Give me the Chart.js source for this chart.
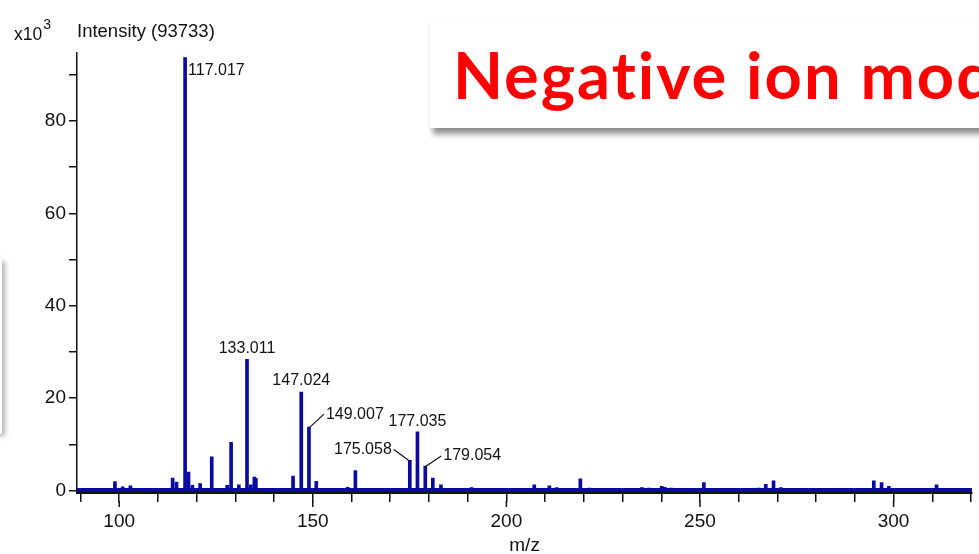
<!DOCTYPE html>
<html>
<head>
<meta charset="utf-8">
<title>Negative ion mode spectrum</title>
<script src="https://cdn.jsdelivr.net/npm/chart.js@4.4.1/dist/chart.umd.min.js"></script>
<style>
  html, body { margin: 0; padding: 0; background: #fff; overflow: hidden; }
  #wrap { position: relative; width: 979px; height: 554px; overflow: hidden; }
  #spectrum { position: absolute; left: 0; top: 0; }
  #leftBox {
    position: absolute; left: -60px; top: 259px; width: 62px; height: 175px;
    background: #fff; box-shadow: 3px 2px 5px rgba(0,0,0,0.3);
  }
  #unit {
    position: absolute; left: 14px; top: 20px; line-height: 22px;
    font: 17.5px "Liberation Sans", Arial, sans-serif; color: #111;
  }
  #unit sup { font-size: 14px; position: relative; top: -4px; margin-left: 1px; }
  #intensity {
    position: absolute; left: 77px; top: 20px; line-height: 22px;
    font: 18.5px "Liberation Sans", Arial, sans-serif; color: #111;
  }
  #mode {
    position: absolute; left: 430px; top: 18px; width: 640px; height: 110px;
    background: #fff; box-shadow: 3px 6px 6px rgba(0,0,0,0.45);
  }
  #mode span {
    position: absolute; left: 23px; top: 17px; line-height: 79px; white-space: nowrap;
    font: 700 65px Lato, "Open Sans", sans-serif; color: #ff0000;
    font-variant-ligatures: none; letter-spacing: 2px;
  }
</style>
</head>
<body>
<div id="wrap">
  <div id="leftBox"></div>
  <canvas id="spectrum" width="979" height="554"></canvas>
  <div id="unit">x10<sup>3</sup></div>
  <div id="intensity">Intensity (93733)</div>
  <div id="mode"><span>Negative ion mode</span></div>
</div>
<script>
// m/z of every stick and its intensity (counts)
const peakMz = [
  98.9, 100.9, 102.9, 104.9, 110.8, 111.9, 112.9, 113.8, 114.8,
  117.017, 117.9, 118.9, 120.9, 123.9, 127.9, 128.9, 130.9,
  133.011, 134.0, 134.9, 135.3, 144.9, 147.024, 149.007, 150.9,
  152.5, 154.0, 156.0, 159.0, 161.0, 170.5, 175.058, 177.035, 179.054,
  181.0, 183.1, 191.0, 193.0, 195.0, 197.0, 207.2, 211.1, 213.0, 219.1, 221.5,
  235.0, 236.9, 240.1, 240.9, 242.5, 251.0, 253.3, 255.5,
  265.1, 267.0, 269.0, 270.9, 281.7, 283.5,
  294.9, 296.9, 298.8, 308.7, 311.1, 313.0, 317.0
];
const peakIntensity = [
  1900, 800, 1000, 400, 300, 300, 400, 2700, 1800,
  93733, 4000, 1100, 1500, 7300, 1100, 10400, 1200,
  28400, 1200, 2900, 2600, 3100, 21300, 13700, 2000,
  300, 300, 300, 700, 4300, 400, 6500, 12700, 5300,
  2700, 1200, 600, 400, 400, 400, 1200, 1000, 600, 2500, 500,
  600, 500, 900, 700, 500, 1700, 400, 400,
  500, 1300, 2100, 600, 400, 300,
  2100, 1700, 900, 400, 1200, 400, 400
];

// annotated peaks
const labelMz = [117.017, 133.011, 147.024, 149.007, 177.035, 175.058, 179.054];
const labelText = ["117.017", "133.011", "147.024", "149.007", "177.035", "175.058", "179.054"];

// axis range and ticks
const xRange = [89.1, 320.3];
const yRange = [-550, 94700];
const xTicks = [90, 100, 110, 120, 130, 140, 150, 160, 170, 180, 190, 200, 210,
                220, 230, 240, 250, 260, 270, 280, 290, 300, 310, 320];
const xLabelled = [100, 150, 200, 250, 300];
const yTicks = [0, 10000, 20000, 30000, 40000, 50000, 60000, 70000, 80000, 90000];
const yLabelled = [0, 20000, 40000, 60000, 80000];
const noiseLevel = 100;

const BLUE = "#0a0aa0";
const INK = "#111";
const AXIS_FONT = { family: "'Liberation Sans', Arial, sans-serif", size: 19 };

// placement of each peak label relative to the top of its stick
const labelPlacement = [
  { align: "left",   dx: 3,   dy: 13,  leader: false },
  { align: "center", dx: 0,   dy: -11, leader: false },
  { align: "center", dx: 0,   dy: -11, leader: false },
  { align: "left",   dx: 17,  dy: -13, leader: true },
  { align: "center", dx: 0,   dy: -10, leader: false },
  { align: "right",  dx: -18, dy: -11, leader: true },
  { align: "left",   dx: 18,  dy: -10, leader: true }
];

const peakLabels = {
  id: "peakLabels",
  afterDatasetsDraw(chart) {
    const { ctx, scales: { x, y } } = chart;
    ctx.save();
    ctx.font = "16px 'Liberation Sans', Arial, sans-serif";
    ctx.fillStyle = INK;
    ctx.strokeStyle = INK;
    ctx.lineWidth = 1.2;
    ctx.textBaseline = "middle";
    labelMz.forEach((mz, i) => {
      const k = peakMz.indexOf(mz);
      const px = x.getPixelForValue(mz);
      const py = y.getPixelForValue(peakIntensity[k]);
      const p = labelPlacement[i];
      const tx = px + p.dx;
      const ty = py + p.dy;
      if (p.leader) {
        const dir = Math.sign(p.dx);
        ctx.beginPath();
        ctx.moveTo(px + dir, py);
        ctx.lineTo(tx - dir * 2, ty);
        ctx.stroke();
      }
      ctx.textAlign = p.align;
      ctx.fillText(labelText[i], tx, ty);
    });
    ctx.restore();
  }
};

// longer tick marks at the labelled m/z values
const majorTicks = {
  id: "majorTicks",
  afterDraw(chart) {
    const { ctx, scales: { x } } = chart;
    ctx.save();
    ctx.strokeStyle = INK;
    ctx.lineWidth = 1.5;
    xLabelled.forEach(v => {
      const px = x.getPixelForValue(v);
      ctx.beginPath();
      ctx.moveTo(px, x.top + 8);
      ctx.lineTo(px, x.top + 14);
      ctx.stroke();
    });
    ctx.restore();
  }
};

new Chart(document.getElementById("spectrum"), {
  type: "bar",
  data: {
    datasets: [
      {
        type: "bar",
        data: peakMz.map((m, i) => ({ x: m, y: peakIntensity[i] })),
        backgroundColor: BLUE,
        borderWidth: 0,
        barThickness: 3,
        grouped: false,
        order: 1
      },
      {
        type: "line",
        data: [{ x: xRange[0], y: noiseLevel }, { x: xRange[1], y: noiseLevel }],
        borderColor: BLUE,
        borderWidth: 4,
        pointRadius: 0,
        order: 2
      }
    ]
  },
  options: {
    responsive: false,
    animation: false,
    devicePixelRatio: 1,
    layout: { padding: { top: 53, right: 0, left: 0, bottom: 0 } },
    plugins: { legend: { display: false }, tooltip: { enabled: false } },
    scales: {
      x: {
        type: "linear",
        min: xRange[0],
        max: xRange[1],
        offset: false,
        border: { color: INK, width: 2 },
        grid: { drawOnChartArea: false, offset: false, tickLength: 9, color: INK, lineWidth: 1.5 },
        ticks: {
          autoSkip: false,
          maxRotation: 0,
          padding: 8,
          color: INK,
          font: AXIS_FONT,
          callback: v => (xLabelled.includes(v) ? v : "")
        },
        afterBuildTicks: s => { s.ticks = xTicks.map(v => ({ value: v })); },
        title: { display: true, text: "m/z", color: INK, font: AXIS_FONT, padding: { top: 0, bottom: -3 } },
        afterFit: s => { s.height = 61; }
      },
      y: {
        min: yRange[0],
        max: yRange[1],
        border: { color: INK, width: 1.5 },
        grid: { drawOnChartArea: false, tickLength: 8, color: INK, lineWidth: 1.5 },
        ticks: {
          autoSkip: false,
          padding: 3,
          color: INK,
          font: AXIS_FONT,
          callback: v => (yLabelled.includes(v) ? v / 1000 : "")
        },
        afterBuildTicks: s => { s.ticks = yTicks.map(v => ({ value: v })); },
        afterFit: s => { s.width = 77; }
      }
    }
  },
  plugins: [peakLabels, majorTicks]
});
</script>
</body>
</html>
